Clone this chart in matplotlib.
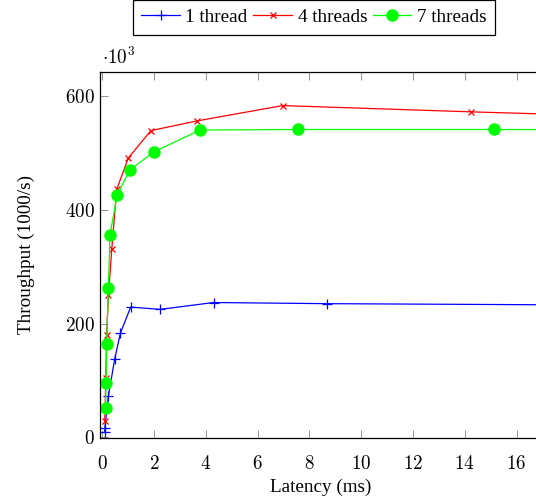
import matplotlib.pyplot as plt
from matplotlib.ticker import FuncFormatter

plt.rcParams['font.family'] = 'Liberation Serif'
plt.rcParams['mathtext.fontset'] = 'cm'

# latency (ms) vs throughput (x1000 /s)
lat_1 = [0.1, 0.1, 0.24, 0.48, 0.7, 1.1, 2.24, 4.3, 8.7, 17.4]
thr_1 = [9, 16, 73, 137, 183, 229, 225, 237, 235, 233]

lat_4 = [0.1, 0.14, 0.17, 0.24, 0.37, 0.56, 1.01, 1.88, 3.65, 6.97, 14.24, 28.5]
thr_4 = [29, 105, 180, 250, 331, 436, 491, 539, 556, 583, 572, 553]

lat_7 = [0.13, 0.15, 0.17, 0.24, 0.30, 0.58, 1.07, 2.01, 3.78, 7.55, 15.12, 30.2]
thr_7 = [51, 95, 164, 263, 356, 426, 470, 502, 540, 541, 541, 539]

labels = ["1 thread", "4 threads", "7 threads"]

fs = 13.8

fig = plt.figure(figsize=(5.36, 5.0), dpi=100)
# axes runs a little past the right edge of the picture, like the cropped original
ax = fig.add_axes([100 / 536, 62 / 500, (541.4 - 100) / 536, 366 / 500])

ax.plot(lat_1, thr_1, color='#0000ff', lw=0.9, marker='+', ms=7, mew=0.9, label=labels[0])
ax.plot(lat_4, thr_4, color='#ff0000', lw=0.9, marker='x', ms=5, mew=0.9, label=labels[1])
ax.plot(lat_7, thr_7, color='#00ff00', lw=0.9, marker='o', ms=8, label=labels[2])

ax.set_xlim(-0.085, 16.96)
ax.set_ylim(-1, 642)
ax.set_xticks([0, 2, 4, 6, 8, 10, 12, 14, 16])
ax.set_yticks([0, 200, 400, 600])
# tick labels in math mode, as pgfplots does
mathfmt = FuncFormatter(lambda v, p: f'${v:g}$')
ax.xaxis.set_major_formatter(mathfmt)
ax.yaxis.set_major_formatter(mathfmt)
ax.tick_params(direction='in', length=5.9, width=0.6, color='#808080', labelsize=fs,
               top=True, right=False)
ax.tick_params(axis='x', pad=12)
ax.spines['right'].set_visible(False)
for s in ['left', 'bottom', 'top']:
    ax.spines[s].set_linewidth(0.9)

ax.set_xlabel("Latency (ms)", fontsize=fs, labelpad=4)
ax.set_ylabel("Throughput (1000/s)", fontsize=fs, labelpad=22)
fig.text(102 / 536, 1 - 64 / 500, r'$\cdot 10^3$', fontsize=fs, ha='left', va='baseline')

leg = fig.legend(loc='upper center', bbox_to_anchor=(314 / 536, 1.0), ncol=3, fontsize=fs,
                 frameon=True, fancybox=False, edgecolor='black', framealpha=1,
                 handlelength=2.0, handletextpad=0.3, columnspacing=0.3, borderpad=0.45,
                 borderaxespad=0)
leg.get_frame().set_linewidth(0.9)

fig.savefig("out.png", dpi=100)
